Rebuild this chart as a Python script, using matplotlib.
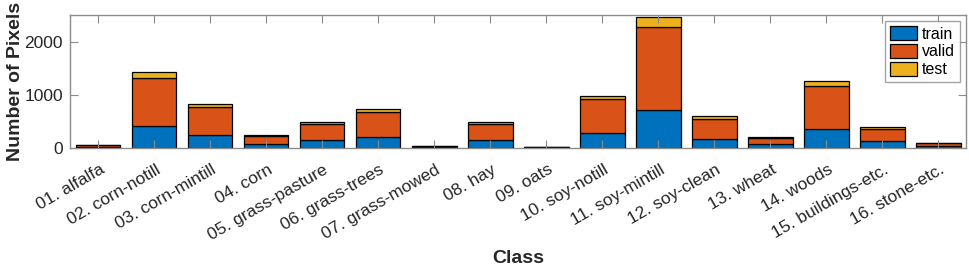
import matplotlib
matplotlib.use("Agg")
import matplotlib.pyplot as plt
from matplotlib.transforms import ScaledTranslation
import numpy as np

# Indian Pines: pixels per class and split
classes = ["01. alfalfa", "02. corn-notill", "03. corn-mintill", "04. corn",
           "05. grass-pasture", "06. grass-trees", "07. grass-mowed", "08. hay",
           "09. oats", "10. soy-notill", "11. soy-mintill", "12. soy-clean",
           "13. wheat", "14. woods", "15. buildings-etc.", "16. stone-etc."]
train = [13, 414, 232, 70, 140, 205, 8, 139, 6, 282, 712, 170, 62, 350, 118, 22]
valid = [29, 907, 540, 150, 314, 475, 18, 302, 13, 630, 1560, 375, 128, 815, 237, 64]
test = [4, 107, 58, 17, 29, 50, 2, 37, 1, 60, 183, 48, 15, 100, 31, 7]

plt.rcParams['font.family'] = ['Liberation Sans', 'DejaVu Sans']
txt = '#262626'
axcol = '#8c8c8c'

fig = plt.figure(figsize=(9.69, 2.66), dpi=100)
ax = fig.add_axes([0.0722, 0.445, 0.925, 0.4985])

x = np.arange(1, len(classes) + 1)
train = np.array(train)
valid = np.array(valid)
test = np.array(test)
kw = dict(width=0.8, edgecolor='black', linewidth=0.9)
ax.bar(x, train, color='#0072BD', label='train', **kw)
ax.bar(x, valid, bottom=train, color='#D95319', label='valid', **kw)
ax.bar(x, test, bottom=train + valid, color='#EDB120', label='test', **kw)

ax.set_xlim(0.5, 16.5)
ax.set_ylim(0, 2500)
ax.set_yticks([0, 1000, 2000])
ax.set_xticks(x)
ax.set_xticklabels(classes, rotation=30, ha='right', va='center',
                   rotation_mode='anchor', fontsize=12.5, color=txt)
ax.tick_params(direction='in', length=6, width=0.8, color=axcol,
               top=True, right=True, labelsize=12.5, labelcolor=txt)
ax.tick_params(axis='x', pad=15)
ax.tick_params(axis='y', pad=5)
# matlab puts the rotated labels a bit to the right of the tick
shift = ScaledTranslation(5 / 100, 0, fig.dpi_scale_trans)
for lbl in ax.get_xticklabels():
    lbl.set_transform(lbl.get_transform() + shift)
for s in ax.spines.values():
    s.set_color(axcol)
    s.set_linewidth(1.0)

ax.set_ylabel('Number of Pixels', fontsize=14, fontweight='bold', color=txt, labelpad=0)
ax.set_xlabel('Class', fontsize=14, fontweight='bold', color=txt, labelpad=5)

leg = ax.legend(loc='upper right', fontsize=11.5, frameon=True, fancybox=False,
                edgecolor=axcol, handlelength=1.7, handleheight=0.95,
                handletextpad=0.3, borderpad=0.3, labelspacing=0.15,
                borderaxespad=0.4)
leg.get_frame().set_linewidth(1.0)

fig.savefig('out.png', dpi=100)
